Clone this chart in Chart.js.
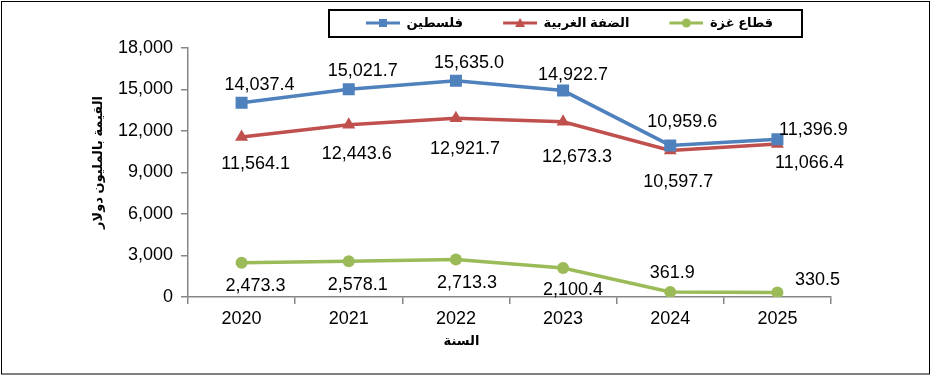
<!DOCTYPE html>
<html lang="ar">
<head>
<meta charset="utf-8">
<title>القيمة بالمليون دولار</title>
<script src="https://cdn.jsdelivr.net/npm/chart.js@4.4.1/dist/chart.umd.min.js"></script>
<style>
    html, body { margin: 0; padding: 0; background: #ffffff; }
    #chartBox { position: relative; width: 931px; height: 376px; }
</style>
</head>
<body>
<div id="chartBox"><canvas id="valueChart"></canvas></div>
<script>
// 데이터
const years = ['2020', '2021', '2022', '2023', '2024', '2025'];
const seriesNames = ['فلسطين', 'الضفة الغربية', 'قطاع غزة'];
const palestine = [14037.4, 15021.7, 15635.0, 14922.7, 10959.6, 11396.9];
const westBank = [11564.1, 12443.6, 12921.7, 12673.3, 10597.7, 11066.4];
const gaza = [2473.3, 2578.1, 2713.3, 2100.4, 361.9, 330.5];
const yTicks = [0, 3000, 6000, 9000, 12000, 15000, 18000];
const xTitle = 'السنة';
const yTitle = 'القيمة بالمليون دولار';

const colors = ['#4F81BD', '#C0504D', '#9BBB59'];
const axisColor = '#868686';
const fontFamily = "Arial, 'Liberation Sans', 'DejaVu Sans', sans-serif";

// 값 라벨 위치 (점 기준 dx, dy)
const labelOffsets = [
    [[18, -18], [14, -18], [13, -18], [10, -16], [12, -23], [36, -9]],
    [[14, 27], [8, 29], [9, 31], [14, 35], [8, 32], [32, 19]],
    [[14, 23], [9, 24], [11, 24], [10, 22], [2, -19], [40, -12]]
];

// 범례용 마커 (선 + 마커, 왼쪽은 간격용 여백)
function makeLegendMarker(color, shape) {
    const c = document.createElement('canvas');
    c.width = 64;
    c.height = 12;
    const g = c.getContext('2d');
    g.strokeStyle = color;
    g.fillStyle = color;
    g.lineWidth = 3;
    g.beginPath();
    g.moveTo(30, 6);
    g.lineTo(64, 6);
    g.stroke();
    g.beginPath();
    if (shape === 'rect') {
        g.rect(43, 2, 8, 8);
    } else if (shape === 'triangle') {
        g.moveTo(47, 1);
        g.lineTo(52, 10);
        g.lineTo(42, 10);
        g.closePath();
    } else {
        g.arc(47, 6, 4.5, 0, Math.PI * 2);
    }
    g.fill();
    return c;
}
const legendMarkers = [
    makeLegendMarker(colors[0], 'rect'),
    makeLegendMarker(colors[1], 'triangle'),
    makeLegendMarker(colors[2], 'circle')
];

const fmtValue = v => v.toLocaleString('en-US', { minimumFractionDigits: 1, maximumFractionDigits: 1 });

// 바깥 테두리 + 범례 테두리 + 범례 위치 조정
const framePlugin = {
    id: 'frame',
    beforeUpdate(chart) {
        const legend = chart.legend;
        if (legend && !legend._extraSpace) {
            const fit = legend.fit;
            legend.fit = function () {
                fit.call(this);
                this.height += 8.5;  // 범례 아래 여백
            };
            legend._extraSpace = true;
        }
    },
    afterLayout(chart) {
        // 범례를 오른쪽으로 이동
        chart.legend.left += 139;
        chart.legend.right += 139;
    },
    afterDraw(chart) {
        const ctx = chart.ctx;
        const legend = chart.legend;
        const cx = (legend.left + legend.right) / 2 + 11;
        ctx.save();
        ctx.strokeStyle = '#000000';
        ctx.lineWidth = 1;
        ctx.strokeRect(1.5, 1.5, chart.width - 3, chart.height - 3.5);
        ctx.lineWidth = 2;
        ctx.strokeRect(Math.round(cx - 237), 10, 473, 27);
        ctx.restore();
    }
};

// 축 제목 (원본처럼 중앙에서 조금 치우침)
const axisTitlePlugin = {
    id: 'axisTitles',
    afterDraw(chart) {
        const ctx = chart.ctx;
        const xs = chart.scales.x;
        const ys = chart.scales.y;
        ctx.save();
        ctx.font = "bold 13px " + fontFamily;
        ctx.fillStyle = '#000000';
        ctx.textAlign = 'center';
        ctx.textBaseline = 'middle';
        ctx.fillText(xTitle, (xs.left + xs.right) / 2 - 48, xs.top + 44);
        ctx.translate(ys.left + 98, (ys.top + ys.bottom) / 2 - 10);
        ctx.rotate(-Math.PI / 2);
        ctx.fillText(yTitle, 0, 0);
        ctx.restore();
    }
};

// 데이터 라벨 그리기
const valueLabelPlugin = {
    id: 'valueLabels',
    afterDatasetsDraw(chart) {
        const ctx = chart.ctx;
        ctx.save();
        ctx.font = "18px " + fontFamily;
        ctx.fillStyle = '#000000';
        ctx.textAlign = 'center';
        ctx.textBaseline = 'middle';
        chart.data.datasets.forEach((ds, i) => {
            const meta = chart.getDatasetMeta(i);
            meta.data.forEach((pt, j) => {
                const off = labelOffsets[i][j];
                ctx.fillText(fmtValue(ds.data[j]), pt.x + off[0], pt.y + off[1]);
            });
        });
        ctx.restore();
    }
};

function makeDataset(label, data, color, shape, radius) {
    return {
        label: label,
        data: data,
        borderColor: color,
        backgroundColor: color,
        borderWidth: 3.5,
        tension: 0,
        pointStyle: shape,
        pointRadius: radius,
        pointHoverRadius: radius,
        pointBorderWidth: 0,
        pointBackgroundColor: color
    };
}

const ctx = document.getElementById('valueChart').getContext('2d');
const valueChart = new Chart(ctx, {
    type: 'line',
    data: {
        labels: years,
        datasets: [
            makeDataset(seriesNames[0], palestine, colors[0], 'rect', 8.5),
            makeDataset(seriesNames[1], westBank, colors[1], 'triangle', 7.5),
            makeDataset(seriesNames[2], gaza, colors[2], 'circle', 6)
        ]
    },
    options: {
        responsive: true,
        maintainAspectRatio: false,
        animation: false,
        devicePixelRatio: 1,
        locale: 'en-US',
        layout: {
            padding: { left: 0, right: 100, top: 6.5, bottom: 0 }
        },
        plugins: {
            legend: {
                display: true,
                position: 'top',
                align: 'center',
                labels: {
                    usePointStyle: true,
                    pointStyleWidth: 64,
                    boxHeight: 12,
                    padding: 10,
                    color: '#000000',
                    font: { family: fontFamily, size: 13, weight: 'bold' },
                    generateLabels: (chart) => {
                        const items = Chart.defaults.plugins.legend.labels.generateLabels(chart);
                        items.forEach((item, i) => {
                            item.pointStyle = legendMarkers[i];
                        });
                        return items;
                    }
                }
            },
            tooltip: { enabled: false }
        },
        scales: {
            x: {
                type: 'category',
                offset: true,
                grid: {
                    offset: true,
                    drawOnChartArea: false,
                    tickLength: 7,
                    color: axisColor,
                    lineWidth: 1.5
                },
                border: { color: axisColor, width: 1.5 },
                ticks: {
                    color: '#000000',
                    padding: 4,
                    font: { family: fontFamily, size: 18 }
                },
                afterFit: (scale) => { scale.height = 79; }
            },
            y: {
                min: 0,
                max: 18000,
                grid: {
                    drawOnChartArea: false,
                    tickLength: 7,
                    color: axisColor,
                    lineWidth: 1.5
                },
                border: { color: axisColor, width: 1.5 },
                afterBuildTicks: (scale) => {
                    scale.ticks = yTicks.map(v => ({ value: v }));
                },
                ticks: {
                    color: '#000000',
                    padding: 8,
                    font: { family: fontFamily, size: 18 },
                    callback: (v) => Number(v).toLocaleString('en-US')
                },
                afterFit: (scale) => { scale.width = 188; }
            }
        }
    },
    plugins: [framePlugin, axisTitlePlugin, valueLabelPlugin]
});
</script>
</body>
</html>
